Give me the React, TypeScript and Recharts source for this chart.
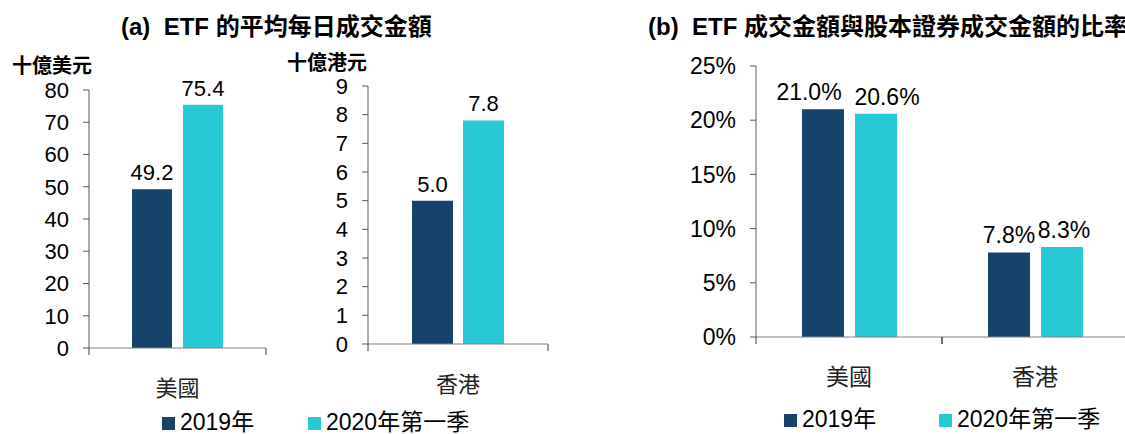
import { BarChart, Bar, XAxis, YAxis, LabelList } from "recharts";

const regions = ["美國", "香港"];
const seriesNames = ["2019年", "2020年第一季"];

// (a) average daily turnover: 美國 in 十億美元, 香港 in 十億港元
const turnover2019 = [49.2, 5.0];
const turnover2020Q1 = [75.4, 7.8];

// (b) ETF turnover as share of equity turnover (%)
const ratio2019 = [21.0, 7.8];
const ratio2020Q1 = [20.6, 8.3];

const usdTicks = [0, 10, 20, 30, 40, 50, 60, 70, 80];
const hkdTicks = [0, 1, 2, 3, 4, 5, 6, 7, 8, 9];
const pctTicks = [0, 5, 10, 15, 20, 25];

const DARK = "#16426B";
const CYAN = "#27CAD4";
const FONT = '"Liberation Sans", Arial, "Noto Sans CJK TC", sans-serif';

const usData = [{ region: regions[0], a: turnover2019[0], b: turnover2020Q1[0] }];
const hkData = [{ region: regions[1], a: turnover2019[1], b: turnover2020Q1[1] }];
const ratioData = regions.map((region, i) => ({ region, a: ratio2019[i], b: ratio2020Q1[i] }));

// category label plus Excel-style tick marks at the band edges
function CategoryTick(props: any) {
  const { x = 0, y = 0, payload, half, fontSize } = props;
  return (
    <g>
      <line x1={x - half} x2={x - half} y1={y} y2={y + 7} stroke="#404040" />
      <line x1={x + half} x2={x + half} y1={y} y2={y + 7} stroke="#404040" />
      <text x={x} y={y + 40} textAnchor="middle" dominantBaseline="central" fontSize={fontSize} fill="#222">
        {payload?.value}
      </text>
    </g>
  );
}

type PanelProps = {
  data: any[];
  left: number;
  width: number;
  top: number;
  bottom: number;
  yWidth: number;
  right: number;
  domain: [number, number];
  ticks: number[];
  half: number;
  barSize: number;
  barGap: number;
  fontSize: number;
  labelSize: number;
  pct?: boolean;
  shiftA?: number[];
  shiftB?: number[];
};

function Panel(p: PanelProps) {
  const fmt = (v: any) => (p.pct ? `${Number(v).toFixed(1)}%` : Number(v).toFixed(1));
  const label = (shifts: number[] = []) => (l: any) => {
    const { x = 0, y = 0, width = 0, value, index = 0 } = l;
    return (
      <text
        x={Number(x) + Number(width) / 2 + (shifts[index] ?? 0)}
        y={Number(y) - 9}
        textAnchor="middle"
        fontSize={p.labelSize}
        fill="#000"
      >
        {fmt(value)}
      </text>
    );
  };
  return (
    <div style={{ position: "absolute", left: p.left, top: 0 }}>
      <BarChart
        width={p.width}
        height={434}
        data={p.data}
        margin={{ top: p.top, right: p.right, bottom: 0, left: 0 }}
        barSize={p.barSize}
        barGap={p.barGap}
      >
        <XAxis
          dataKey="region"
          height={434 - p.bottom}
          interval={0}
          tickLine={false}
          tickSize={0}
          tickMargin={0}
          axisLine={{ stroke: "#808080" }}
          tick={(t: any) => <CategoryTick {...t} half={p.half} fontSize={p.fontSize} />}
        />
        <YAxis
          type="number"
          width={p.yWidth}
          domain={p.domain}
          ticks={p.ticks}
          interval={0}
          tickSize={6}
          tickMargin={14}
          axisLine={{ stroke: "#595959" }}
          tickLine={{ stroke: "#595959" }}
          tick={{ fontSize: p.fontSize, fill: "#000" }}
          tickFormatter={(v) => (p.pct ? `${v}%` : `${v}`)}
        />
        <Bar dataKey="a" fill={DARK} isAnimationActive={false}>
          <LabelList dataKey="a" content={label(p.shiftA)} />
        </Bar>
        <Bar dataKey="b" fill={CYAN} isAnimationActive={false}>
          <LabelList dataKey="b" content={label(p.shiftB)} />
        </Bar>
      </BarChart>
    </div>
  );
}

function LegendRow({ xs, top }: { xs: number[]; top: number }) {
  return (
    <>
      {seriesNames.map((name, i) => (
        <div key={name}>
          <div
            style={{
              position: "absolute",
              left: xs[i],
              top: top - 5,
              width: 13,
              height: 13,
              background: i === 0 ? DARK : CYAN,
            }}
          />
          <div
            style={{
              position: "absolute",
              left: xs[i] + 18,
              top: top - 11,
              fontSize: 23,
              lineHeight: "22px",
              whiteSpace: "nowrap",
              color: "#000",
            }}
          >
            {name}
          </div>
        </div>
      ))}
    </>
  );
}

const titleStyle = {
  position: "absolute" as const,
  top: 15,
  fontSize: 24,
  lineHeight: "24px",
  fontWeight: 700,
  whiteSpace: "pre" as const,
  color: "#000",
};

const unitStyle = {
  position: "absolute" as const,
  fontSize: 20,
  lineHeight: "20px",
  fontWeight: 700,
  whiteSpace: "nowrap" as const,
  color: "#000",
};

export default function App() {
  return (
    <div
      style={{
        position: "absolute",
        left: 0,
        top: 0,
        width: 1125,
        height: 434,
        overflow: "hidden",
        background: "#fff",
        fontFamily: FONT,
      }}
    >
      <div style={{ ...titleStyle, left: 121 }}>(a)  ETF 的平均每日成交金額</div>
      <div style={{ ...titleStyle, left: 648 }}>(b)  ETF 成交金額與股本證券成交金額的比率</div>

      <div style={{ ...unitStyle, left: 12, top: 56 }}>十億美元</div>
      <div style={{ ...unitStyle, left: 287, top: 53 }}>十億港元</div>

      <Panel
        data={usData}
        left={0}
        width={320}
        top={90}
        bottom={348}
        yWidth={89}
        right={320 - 89 - 177}
        domain={[0, 80]}
        ticks={usdTicks}
        half={88.5}
        barSize={40}
        barGap={11}
        fontSize={22}
        labelSize={22}
      />
      <Panel
        data={hkData}
        left={280}
        width={300}
        top={86}
        bottom={344}
        yWidth={88}
        right={300 - 88 - 180}
        domain={[0, 9]}
        ticks={hkdTicks}
        half={90}
        barSize={41}
        barGap={10}
        fontSize={22}
        labelSize={22}
      />
      <Panel
        data={ratioData}
        left={640}
        width={500}
        top={66}
        bottom={337}
        yWidth={116}
        right={500 - 116 - 372}
        domain={[0, 25]}
        ticks={pctTicks}
        half={93}
        barSize={42}
        barGap={11}
        fontSize={23}
        labelSize={23}
        pct
        shiftA={[-14, 0]}
        shiftB={[11, 2]}
      />

      <LegendRow xs={[162, 308]} top={422} />
      <LegendRow xs={[784, 939]} top={419} />
    </div>
  );
}
